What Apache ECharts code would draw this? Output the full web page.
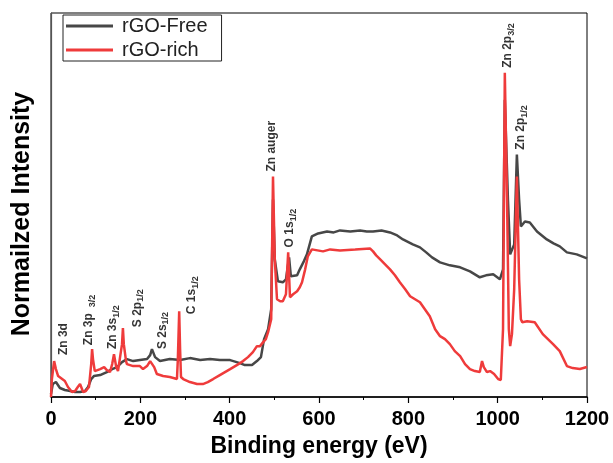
<!DOCTYPE html>
<html>
<head>
<meta charset="utf-8">
<script src="https://cdn.jsdelivr.net/npm/echarts@6/dist/echarts.min.js"></script>
<style>
  html, body { margin: 0; padding: 0; background: #fff; }
  #xps { width: 613px; height: 463px; }
</style>
</head>
<body>
<div id="xps"></div>
<script>
// binding energy (eV) and intensity (a.u.)
var freeEnergy = [0, 4, 11, 20, 31, 43, 54, 65, 76, 83, 90, 96, 110, 125, 137, 148, 159, 170, 184, 199,
  215, 222, 226, 233, 244, 266, 289, 311, 334, 356, 378, 401, 423, 434, 450, 461, 470, 477, 486, 493,
  497, 501, 508, 519, 526, 533, 537, 551, 557, 566, 573, 584, 598, 618, 633, 647, 670, 692, 707, 721,
  740, 759, 775, 788, 810, 826, 840, 853, 871, 893, 916, 938, 960, 974, 990, 1005, 1012, 1016, 1023,
  1028, 1037, 1043, 1048, 1052, 1061, 1072, 1088, 1110, 1125, 1139, 1155, 1177, 1200];
var freeIntensity = [3, 13, 15, 9, 7, 6, 5, 5, 6, 10, 18, 21, 22, 25, 28, 30, 35, 38, 36, 37,
  38, 42, 48, 40, 36, 38, 37, 39, 37, 38, 37, 37, 34, 32, 32, 36, 40, 58, 68, 88,
  198, 138, 116, 115, 118, 140, 121, 122, 128, 136, 143, 161, 164, 166, 165, 167, 166, 167, 166, 166,
  167, 165, 162, 158, 153, 150, 145, 140, 135, 132, 130, 126, 120, 122, 123, 118, 128, 298, 198,
  143, 153, 243, 198, 171, 176, 175, 166, 158, 154, 151, 145, 143, 139];

var richEnergy = [0, 2, 7, 11, 16, 25, 31, 38, 47, 54, 60, 65, 72, 78, 85, 90, 92, 94, 98, 110,
  119, 125, 132, 137, 141, 146, 150, 154, 159, 161, 163, 168, 170, 184, 199, 206, 215, 222, 226, 231,
  237, 251, 266, 282, 284, 287, 289, 291, 296, 311, 327, 340, 351, 363, 378, 401, 416, 430, 441, 452,
  461, 468, 475, 481, 486, 493, 497, 501, 506, 513, 519, 526, 531, 535, 542, 551, 557, 562, 569, 575,
  584, 609, 625, 647, 681, 714, 721, 728, 737, 748, 759, 770, 781, 793, 804, 815, 826, 837, 848, 860,
  871, 882, 893, 904, 916, 927, 938, 949, 960, 965, 969, 976, 983, 992, 1001, 1007, 1012, 1016, 1021,
  1025, 1028, 1032, 1037, 1043, 1048, 1052, 1055, 1066, 1083, 1101, 1124, 1139, 1155, 1168, 1184, 1200];
var richIntensity = [0, 18, 36, 28, 21, 18, 16, 10, 5, 6, 10, 13, 5, 6, 10, 33, 48, 38, 26, 28,
  30, 27, 25, 33, 43, 30, 26, 28, 53, 69, 53, 36, 33, 31, 31, 28, 31, 36, 38, 30,
  23, 21, 20, 18, 38, 86, 48, 20, 18, 15, 13, 13, 15, 18, 22, 28, 32, 36, 40, 45,
  51, 51, 55, 58, 65, 78, 221, 138, 98, 96, 96, 103, 145, 100, 103, 106, 110, 115, 128, 141,
  148, 146, 148, 147, 148, 149, 146, 142, 138, 133, 128, 122, 115, 108, 101, 98, 95, 88, 81, 68,
  61, 58, 53, 46, 41, 33, 28, 26, 25, 36, 30, 25, 26, 23, 18, 17, 68, 325, 198,
  68, 51, 63, 108, 221, 118, 78, 75, 76, 75, 63, 53, 46, 31, 29, 28, 30];

// peak assignments: label text, energy, intensity at the foot of the label
var peakNames = ['Zn 3d', 'Zn 3p {s| 3/2}', 'Zn 3s{s|1/2}', 'S 2p{s|1/2}', 'S 2s{s|1/2}', 'C 1s{s|1/2}',
  'Zn auger', 'O 1s{s|1/2}', 'Zn 2p{s|3/2}', 'Zn 2p{s|1/2}'];
var peakEnergy = [29, 85, 139, 193, 249, 316, 495, 535, 1023, 1052];
var peakIntensity = [42, 52, 48, 70, 48, 83, 226, 150, 330, 248];

var xTicks = [0, 200, 400, 600, 800, 1000, 1200];

function zip(a, b) {
  return a.map(function (v, i) { return [v, b[i]]; });
}

var chart = echarts.init(document.getElementById('xps'));
chart.setOption({
  animation: false,
  grid: {
    left: 51, top: 13, width: 536, height: 385,
    show: true, borderColor: '#000', borderWidth: 1
  },
  legend: {
    left: 63, top: 15,
    orient: 'vertical',
    icon: 'rect',
    itemWidth: 47, itemHeight: 3, itemGap: 4,
    padding: [1, 14, 1, 3],
    borderColor: '#222', borderWidth: 1,
    textStyle: { fontFamily: 'Liberation Sans', fontSize: 20, color: '#222', padding: [0, 0, 0, 4] },
    data: ['rGO-Free', 'rGO-rich']
  },
  xAxis: {
    type: 'value',
    min: 0, max: 1200, interval: 200,
    name: 'Binding energy (eV)',
    nameLocation: 'middle',
    nameGap: 38,
    nameTextStyle: { fontFamily: 'Liberation Sans', fontWeight: 'bold', fontSize: 23, color: '#000' },
    axisLine: { lineStyle: { color: '#000', width: 1.5 } },
    axisTick: { show: true, length: 6, lineStyle: { color: '#000', width: 1.2 } },
    minorTick: { show: true, splitNumber: 2, length: 3, lineStyle: { color: '#000' } },
    axisLabel: {
      margin: 12,
      fontFamily: 'Liberation Sans', fontWeight: 'bold', fontSize: 20, color: '#000',
      formatter: function (v) { return xTicks.indexOf(v) >= 0 ? String(v) : ''; }
    },
    splitLine: { show: false }
  },
  yAxis: {
    type: 'value',
    min: 0, max: 385,
    name: 'Normailzed Intensity',
    nameLocation: 'middle',
    nameGap: 16,
    nameTextStyle: { fontFamily: 'Liberation Sans', fontWeight: 'bold', fontSize: 25, color: '#000', padding: [0, 0, 0, -18] },
    axisLine: { show: true, lineStyle: { color: '#555', width: 1.2 } },
    axisTick: { show: false },
    axisLabel: { show: false },
    splitLine: { show: false }
  },
  series: [
    {
      name: 'rGO-Free',
      type: 'line',
      symbol: 'none',
      data: zip(freeEnergy, freeIntensity),
      lineStyle: { color: '#474747', width: 2.5 },
      itemStyle: { color: '#474747' },
      z: 2
    },
    {
      name: 'rGO-rich',
      type: 'line',
      symbol: 'none',
      data: zip(richEnergy, richIntensity),
      lineStyle: { color: '#ef3b3b', width: 2.5 },
      itemStyle: { color: '#ef3b3b' },
      z: 3
    },
    {
      name: 'peaks',
      type: 'scatter',
      symbolSize: 0,
      silent: true,
      z: 4,
      data: peakNames.map(function (n, i) {
        return { name: n, value: [peakEnergy[i], peakIntensity[i]] };
      }),
      label: {
        show: true,
        position: 'inside',
        rotate: 90,
        align: 'left',
        verticalAlign: 'middle',
        formatter: '{b}',
        fontFamily: 'Liberation Sans',
        fontWeight: 'bold',
        fontSize: 12,
        lineHeight: 16,
        color: '#000',
        rich: {
          s: { fontFamily: 'Liberation Sans', fontWeight: 'bold', fontSize: 9, lineHeight: 16, verticalAlign: 'bottom', color: '#000' }
        }
      }
    }
  ]
});
</script>
</body>
</html>
